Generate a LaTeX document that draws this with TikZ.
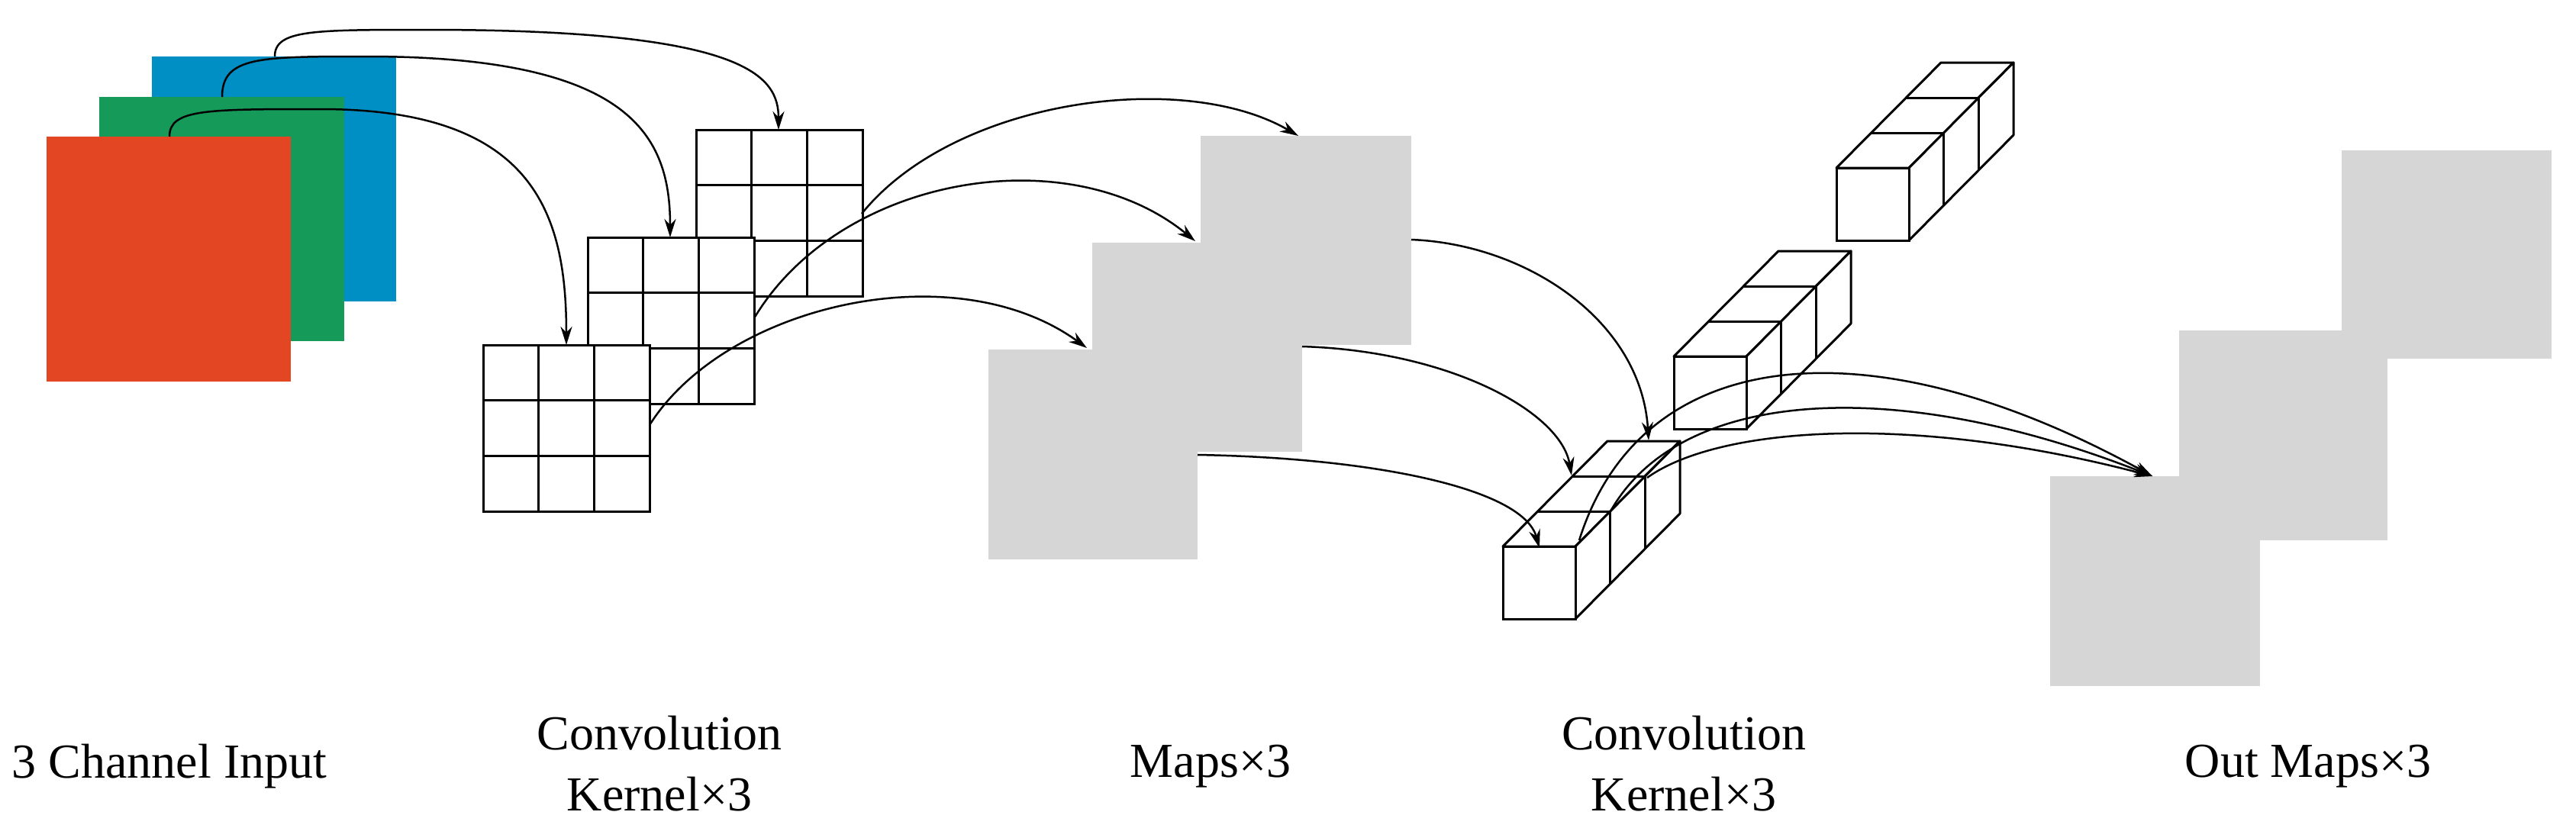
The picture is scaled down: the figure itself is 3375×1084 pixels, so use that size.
\documentclass[tikz,border=0pt]{standalone}
\usepackage{fontspec}
\setmainfont{Liberation Serif}
\usetikzlibrary{arrows.meta}
\definecolor{cred}{HTML}{E34623}
\definecolor{cgreen}{HTML}{169A5A}
\definecolor{cblue}{HTML}{008FC5}
\definecolor{cgray}{HTML}{D6D6D6}
\tikzset{
  gl/.style={line width=3pt, draw=black, fill=white},
  arr/.style={line width=2.5pt, -{Stealth[length=24pt,width=15pt]}},
  lab/.style={font=\fontsize{64}{80}\selectfont, align=center},
  mapsq/.style={fill=cgray}
}
\newcommand\kgrid[2]{%
  \draw[gl] (#1,#2) rectangle ++(218,218);
  \foreach \i in {1,2}{
    \draw[line width=3pt] (#1+72.67*\i,#2) -- ++(0,218);
    \draw[line width=3pt] (#1,#2+72.67*\i) -- ++(218,0);
  }}
\newcommand\cubecol[2]{%
  \draw[gl,line join=round] (#1,#2) -- ++(95,0) -- ++(137,-138) -- ++(-95,0) -- cycle;
  \draw[gl,line join=round] (#1+95,#2) -- ++(137,-138) -- ++(0,95) -- ++(-137,138) -- cycle;
  \draw[gl] (#1,#2) rectangle ++(95,95);
  \foreach \k in {1,2}{
    \draw[line width=3pt] (#1+45.67*\k,#2-46*\k) -- ++(95,0) -- ++(0,95);
  }}
\begin{document}
\begin{tikzpicture}[x=1pt,y=-1pt]
\useasboundingbox (0,0) rectangle (3375,1084);
% input channels
\fill[cblue]  (199,74)  rectangle (519,395);
\fill[cgreen] (130,127) rectangle (451,447);
\fill[cred]   (61,179)  rectangle (381,500);
\coordinate (rs) at (222,179);
\coordinate (gs) at (291,127);
\coordinate (bs) at (360,74);
% kernels
\kgrid{912}{170}
\kgrid{770}{311}
\kgrid{633}{452}
\coordinate (k3t) at (1020,170);
\coordinate (k2t) at (878,311);
\coordinate (k1t) at (742,452);
\draw[arr] (rs) .. controls (222,143) and (270,143) .. (420,143) .. controls (700,143) and (742,280) .. (k1t);
\draw[arr] (gs) .. controls (291,74) and (340,74) .. (480,74) .. controls (830,74) and (878,180) .. (k2t);
\draw[arr] (bs) .. controls (360,39) and (410,39) .. (560,39) .. controls (980,39) and (1020,100) .. (k3t);
% maps
\fill[mapsq] (1573,178) rectangle (1849,452);
\fill[mapsq] (1431,318) rectangle (1706,592);
\fill[mapsq] (1295,458) rectangle (1569,733);
\coordinate (k1r) at (851,557);
\coordinate (k2r) at (988,417);
\coordinate (k3r) at (1129,280);
\coordinate (m1t) at (1424,456);
\coordinate (m2t) at (1566,316);
\coordinate (m3t) at (1701,178);
\draw[arr] (k1r) .. controls (950,400) and (1250,330) .. (m1t);
\draw[arr] (k2r) .. controls (1100,230) and (1400,180) .. (m2t);
\draw[arr] (k3r) .. controls (1250,130) and (1550,90) .. (m3t);
% cube columns
\cubecol{2406}{220}
\cubecol{2193}{467}
\cubecol{1969}{716}
\coordinate (m3r) at (1849,314);
\coordinate (m2r) at (1706,454);
\coordinate (m1r) at (1569,596);
\coordinate (c3) at (2160,577);
\coordinate (c2) at (2059,623);
\coordinate (c1) at (2017,718);
\draw[arr] (m3r) .. controls (2000,320) and (2150,420) .. (c3);
\draw[arr] (m2r) .. controls (1900,460) and (2045,540) .. (c2);
\draw[arr] (m1r) .. controls (1800,600) and (1995,640) .. (c1);
% out maps
\fill[mapsq] (3068,197) rectangle (3343,470);
\fill[mapsq] (2855,433) rectangle (3128,708);
\fill[mapsq] (2686,624) rectangle (2961,899);
\coordinate (ot) at (2820,624);
\coordinate (a1) at (2069,708);
\coordinate (a2) at (2110,670);
\coordinate (a3) at (2158,626);
\draw[arr] (a1) .. controls (2150,450) and (2450,420) .. (ot);
\draw[arr] (a2) .. controls (2200,510) and (2480,490) .. (ot);
\draw[arr] (a3) .. controls (2250,560) and (2500,540) .. (ot);
% labels
\node[lab] (l1) at (222,1004) {3 Channel Input};
\node[lab] (l2) at (864,1001) {Convolution\\Kernel×3};
\node[lab] (l3) at (1586,1004) {Maps×3};
\node[lab] (l4) at (2206,1001) {Convolution\\Kernel×3};
\node[lab] (l5) at (3024,1004) {Out Maps×3};
\end{tikzpicture}
\end{document}
